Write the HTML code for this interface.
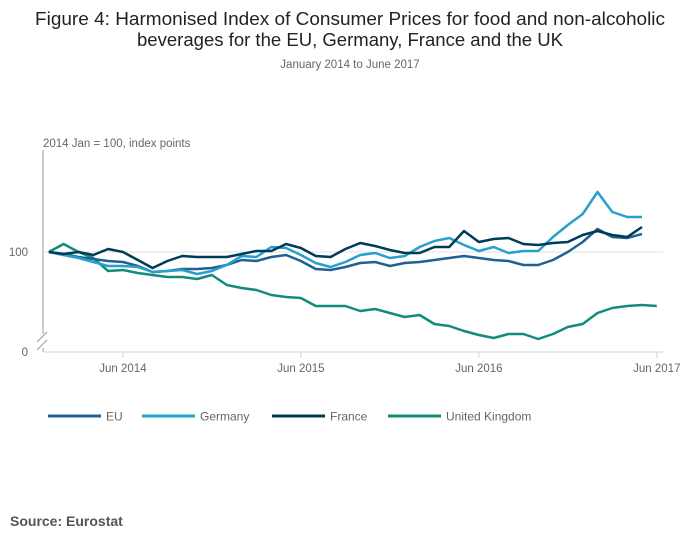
<!DOCTYPE html>
<html><head><meta charset="utf-8"><style>
body{margin:0;background:#fff;font-family:"Liberation Sans",sans-serif;}
svg{display:block}
</style></head><body>
<svg id="chart" width="700" height="549">
<text x="350" y="25" text-anchor="middle" font-size="18" fill="#222" textLength="630" lengthAdjust="spacingAndGlyphs">Figure 4: Harmonised Index of Consumer Prices for food and non-alcoholic</text>
<text x="350" y="46" text-anchor="middle" font-size="18" fill="#222" textLength="426" lengthAdjust="spacingAndGlyphs">beverages for the EU, Germany, France and the UK</text>
<text x="350" y="68" text-anchor="middle" font-size="11.5" fill="#666">January 2014 to June 2017</text>
<text x="43" y="147" font-size="11.5" fill="#666">2014 Jan = 100, index points</text>
<line x1="43" y1="150" x2="43" y2="352" stroke="#999" stroke-width="1"/>
<line x1="43" y1="352" x2="663" y2="352" stroke="#c8d4e6" stroke-width="1"/>
<line x1="43" y1="252" x2="663" y2="252" stroke="#e2e2e2" stroke-width="1"/>
<g>
<rect x="37" y="334" width="12" height="14" fill="#fff"/>
<line x1="37" y1="342" x2="47" y2="332" stroke="#999"/>
<line x1="37" y1="350" x2="47" y2="340" stroke="#999"/>
</g>
<text x="28" y="256" text-anchor="end" font-size="11.5" fill="#666">100</text>
<text x="28" y="356" text-anchor="end" font-size="11.5" fill="#666">0</text>
<g id="ticks"></g>
<g id="series"></g>
<g id="legend"></g>
<text x="10" y="526" font-size="14" font-weight="bold" fill="#555">Source: Eurostat</text>
</svg>
<script>
const seriesNames=["EU","Germany","France","United Kingdom"];
const seriesColors=["#206095","#27a0cc","#003c57","#118c7b"];
const euValues=[100,99.8,99.5,99.3,99.1,99,98.6,98,98.1,98.3,98.3,98.4,98.7,99.2,99.1,99.5,99.7,99.1,98.3,98.2,98.5,98.9,99,98.6,98.9,99,99.2,99.4,99.6,99.4,99.2,99.1,98.7,98.7,99.2,100,101,102.3,101.5,101.4,101.8];
const germanyValues=[100,99.7,99.4,99,98.6,98.6,98.5,98,98.1,98.2,97.8,98.1,98.7,99.6,99.5,100.5,100.4,99.7,98.9,98.5,99,99.7,99.9,99.4,99.6,100.5,101.1,101.4,100.7,100.1,100.5,99.9,100.1,100.1,101.5,102.7,103.8,106,104,103.5,103.5];
const franceValues=[100,99.8,100,99.7,100.3,100,99.2,98.4,99.1,99.6,99.5,99.5,99.5,99.8,100.1,100.1,100.8,100.4,99.6,99.5,100.3,100.9,100.6,100.2,99.9,99.9,100.5,100.5,102.1,101,101.3,101.4,100.8,100.7,100.9,101,101.7,102.1,101.7,101.5,102.5];
const ukValues=[100,100.8,100,99.4,98.1,98.2,97.9,97.7,97.5,97.5,97.3,97.7,96.7,96.4,96.2,95.7,95.5,95.4,94.6,94.6,94.6,94.1,94.3,93.9,93.5,93.7,92.8,92.6,92.1,91.7,91.4,91.8,91.8,91.3,91.8,92.5,92.8,93.9,94.4,94.6,94.7,94.6];
const tickMonths=[5,17,29,41];
const tickLabels=["Jun 2014","Jun 2015","Jun 2016","Jun 2017"];
const allSeries=[euValues,germanyValues,franceValues,ukValues];
const NS="http://www.w3.org/2000/svg";
function xScale(m){return 48.8+m*14.83;}
function yScale(v){return 252-(v-100)*10;}
const tg=document.getElementById('ticks');
tickMonths.forEach((m,i)=>{
 const l=document.createElementNS(NS,'line');
 l.setAttribute('x1',xScale(m));l.setAttribute('x2',xScale(m));
 l.setAttribute('y1',352);l.setAttribute('y2',358);
 l.setAttribute('stroke','#c8d4e6');
 
 
 tg.appendChild(l);
 const t=document.createElementNS(NS,'text');
 t.setAttribute('x',xScale(m));t.setAttribute('y',372);
 t.setAttribute('text-anchor','middle');t.setAttribute('font-size','11.5');t.setAttribute('fill','#666');
 t.textContent=tickLabels[i];
 
 
 tg.appendChild(t);
});
const sg=document.getElementById('series');
[3,0,1,2].forEach(i=>{
 const vals=allSeries[i];
 const p=document.createElementNS(NS,'polyline');
 p.setAttribute('points',vals.map((v,m)=>xScale(m).toFixed(1)+','+yScale(v).toFixed(1)).join(' '));
 p.setAttribute('fill','none');p.setAttribute('stroke',seriesColors[i]);
 p.setAttribute('stroke-width','2.5');p.setAttribute('stroke-linejoin','round');
 
 
 sg.appendChild(p);
});
const lg=document.getElementById('legend');
const legX=[48,142,272,388];
seriesNames.forEach((n,i)=>{
 const g=document.createElementNS(NS,'g');
 
 
 const l=document.createElementNS(NS,'line');
 l.setAttribute('x1',legX[i]);l.setAttribute('x2',legX[i]+53);
 l.setAttribute('y1',416);l.setAttribute('y2',416);
 l.setAttribute('stroke',seriesColors[i]);l.setAttribute('stroke-width','3');
 g.appendChild(l);
 const t=document.createElementNS(NS,'text');
 t.setAttribute('x',legX[i]+58);t.setAttribute('y',420.5);
 t.setAttribute('font-size','12');t.setAttribute('fill','#666');
 t.textContent=n;
 g.appendChild(t);
 lg.appendChild(g);
});
</script>
</body></html>
